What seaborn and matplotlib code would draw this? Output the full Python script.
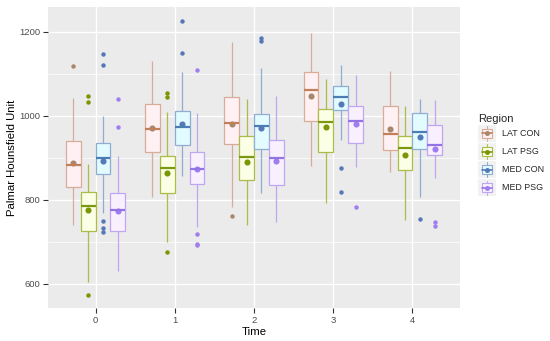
import numpy as np
import pandas as pd
import matplotlib
matplotlib.use("Agg")
import matplotlib.pyplot as plt
from matplotlib.patches import Patch, Rectangle
from matplotlib.lines import Line2D
from matplotlib.legend_handler import HandlerBase
import seaborn as sns

times = ["0", "1", "2", "3", "4"]
regions = ["LAT CON", "LAT PSG", "MED CON", "MED PSG"]

# five-number summaries (per region, per time)
lat_con_q1 = [831, 913, 932, 988, 918]
lat_con_med = [883, 968, 983, 1062, 956]
lat_con_q3 = [940, 1027, 1044, 1103, 1024]
lat_con_lo = [739, 806, 783, 880, 866]
lat_con_hi = [1043, 1131, 1176, 1198, 1107]
lat_con_mean = [887, 971, 980, 1047, 968]
lat_con_out = [[1118], [], [762], [], []]

lat_psg_q1 = [725, 815, 846, 913, 870]
lat_psg_med = [784, 875, 902, 985, 922]
lat_psg_q3 = [819, 905, 951, 1017, 952]
lat_psg_lo = [605, 699, 740, 791, 752]
lat_psg_hi = [885, 1010, 1040, 1087, 1023]
lat_psg_mean = [776, 864, 890, 972, 906]
lat_psg_out = [[1046, 1032, 572], [1055, 1045, 676], [], [], []]

med_con_q1 = [861, 931, 921, 1013, 921]
med_con_med = [899, 972, 976, 1045, 962]
med_con_q3 = [934, 1011, 1005, 1072, 1007]
med_con_lo = [768, 857, 815, 942, 807]
med_con_hi = [1000, 1104, 1114, 1121, 1039]
med_con_mean = [893, 981, 971, 1029, 949]
med_con_out = [[1146, 1120, 749, 732, 722], [1226, 1150], [1185, 1179], [876, 819], [754]]

med_psg_q1 = [725, 838, 834, 934, 906]
med_psg_med = [775, 872, 900, 987, 930]
med_psg_q3 = [815, 914, 941, 1024, 978]
med_psg_lo = [629, 736, 748, 877, 852]
med_psg_hi = [904, 1006, 1047, 1098, 1037]
med_psg_mean = [774, 872, 893, 980, 921]
med_psg_out = [[1039, 973], [1109, 718, 695, 693], [], [783], [748, 738]]

summaries = {
    "LAT CON": (lat_con_q1, lat_con_med, lat_con_q3, lat_con_lo, lat_con_hi, lat_con_mean, lat_con_out),
    "LAT PSG": (lat_psg_q1, lat_psg_med, lat_psg_q3, lat_psg_lo, lat_psg_hi, lat_psg_mean, lat_psg_out),
    "MED CON": (med_con_q1, med_con_med, med_con_q3, med_con_lo, med_con_hi, med_con_mean, med_con_out),
    "MED PSG": (med_psg_q1, med_psg_med, med_psg_q3, med_psg_lo, med_psg_hi, med_psg_mean, med_psg_out),
}

fill_cols = {"LAT CON": "#FFF0F3", "LAT PSG": "#FAFFE6", "MED CON": "#E2FBFF", "MED PSG": "#F8F0FF"}
edge_cols = {"LAT CON": "#D8AC96", "LAT PSG": "#ADBB48", "MED CON": "#90ACD2", "MED PSG": "#BEA6F2"}
med_cols = {"LAT CON": "#C0805A", "LAT PSG": "#7C9A10", "MED CON": "#4C7CB4", "MED PSG": "#9474E4"}
pt_cols = {"LAT CON": "#A8866A", "LAT PSG": "#7A9600", "MED CON": "#5478B8", "MED PSG": "#A07EF0"}


def expand(q1, med, q3, lo, hi, outs):
    """Observations whose box statistics equal the values read above."""
    low = sorted(o for o in outs if o < q1)
    high = sorted(o for o in outs if o > q3)
    s = max(len(low), len(high)) + 1
    m = s + 1
    return (low + [lo] * (s - len(low)) + [q1] * m + [med] + [q3] * m
            + [hi] * (s - len(high)) + high)


rows = []
mean_rows = []
for r in regions:
    q1, med, q3, lo, hi, mean, outs = summaries[r]
    for i, t in enumerate(times):
        for v in expand(q1[i], med[i], q3[i], lo[i], hi[i], outs[i]):
            rows.append({"Time": t, "Region": r, "HU": v})
        mean_rows.append({"Time": t, "Region": r, "HU": mean[i]})
df = pd.DataFrame(rows)
mdf = pd.DataFrame(mean_rows)

sns.set_theme(style="darkgrid")
plt.rcParams["font.family"] = ["Liberation Sans", "DejaVu Sans"]

fig = plt.figure(figsize=(5.5, 3.41), dpi=100)
ax = fig.add_axes([48 / 550, 1 - 308 / 341, (460 - 48) / 550, (308 - 7) / 341])
ax.set_facecolor("#EBEBEB")

for r in regions:
    sub = df[df["Region"] == r]
    sns.boxplot(
        data=sub, x="Time", y="HU", hue="Region", order=times, hue_order=regions,
        palette=fill_cols, saturation=1, width=0.75, gap=0, dodge=True, linewidth=0.9,
        linecolor=edge_cols[r], legend=False, ax=ax,
        medianprops=dict(color=med_cols[r], linewidth=1.6),
        capprops=dict(linewidth=0),
        flierprops=dict(marker="o", markersize=3.2, markerfacecolor=pt_cols[r],
                        markeredgecolor=pt_cols[r], markeredgewidth=0),
    )

sns.pointplot(
    data=mdf, x="Time", y="HU", hue="Region", order=times, hue_order=regions,
    palette=pt_cols, dodge=0.5625, linestyle="none", markers="o", errorbar=None,
    markersize=4.4, markeredgewidth=0, legend=False, ax=ax,
)

ax.set_xlim(-0.6, 4.6)
ax.set_ylim(542, 1259)
ax.set_yticks([600, 800, 1000, 1200])
ax.set_yticks([700, 900, 1100], minor=True)
ax.grid(which="major", color="white", linewidth=1.0)
ax.grid(which="minor", axis="y", color="white", linewidth=0.5)
ax.grid(which="minor", axis="x", visible=False)
ax.set_axisbelow(True)
for sp in ax.spines.values():
    sp.set_visible(False)
ax.tick_params(axis="both", which="major", length=3.5, width=0.8, color="#333333",
               labelsize=6.8, labelcolor="#4D4D4D", pad=2, bottom=True, left=True)
ax.tick_params(axis="both", which="minor", length=0)
ax.set_xlabel("Time", fontsize=8.2, color="black", labelpad=2)
ax.set_ylabel("Palmar Hounsfield Unit", fontsize=8.2, color="black", labelpad=1.5)


class BoxKey(HandlerBase):
    def __init__(self, region):
        super().__init__()
        self.region = region

    def create_artists(self, legend, orig_handle, xdescent, ydescent, width, height,
                       fontsize, trans):
        r = self.region
        x0, y0 = -xdescent, -ydescent
        cx, cy = x0 + width / 2, y0 + height / 2
        bg = Rectangle((x0, y0), width, height, facecolor="#F2F2F2", edgecolor="none",
                       transform=trans)
        whisk = Line2D([cx, cx], [y0 + 1, y0 + height - 1], color=edge_cols[r],
                       linewidth=0.8, transform=trans)
        bw, bh = width * 0.56, height * 0.5
        box = Rectangle((cx - bw / 2, cy - bh / 2), bw, bh, facecolor=fill_cols[r],
                        edgecolor=edge_cols[r], linewidth=0.8, transform=trans)
        med = Line2D([cx - bw / 2, cx + bw / 2], [cy, cy], color=med_cols[r],
                     linewidth=1.2, transform=trans)
        pt = Line2D([cx], [cy], marker="o", markersize=3.6, markerfacecolor=pt_cols[r],
                    markeredgewidth=0, linestyle="none", transform=trans)
        return [bg, whisk, box, med, pt]


handles = [Patch(facecolor=fill_cols[r], edgecolor=edge_cols[r]) for r in regions]
hmap = {h: BoxKey(r) for h, r in zip(handles, regions)}
leg = fig.legend(
    handles, regions, title="Region", loc="upper left",
    bbox_to_anchor=(478 / 550, 1 - 114 / 341), frameon=False, borderpad=0,
    handler_map=hmap, handlelength=2.0, handleheight=2.6, handletextpad=0.7,
    labelspacing=0.1, borderaxespad=0, fontsize=6.4, title_fontsize=8.0,
    alignment="left",
)

fig.savefig("out.png", dpi=100)
